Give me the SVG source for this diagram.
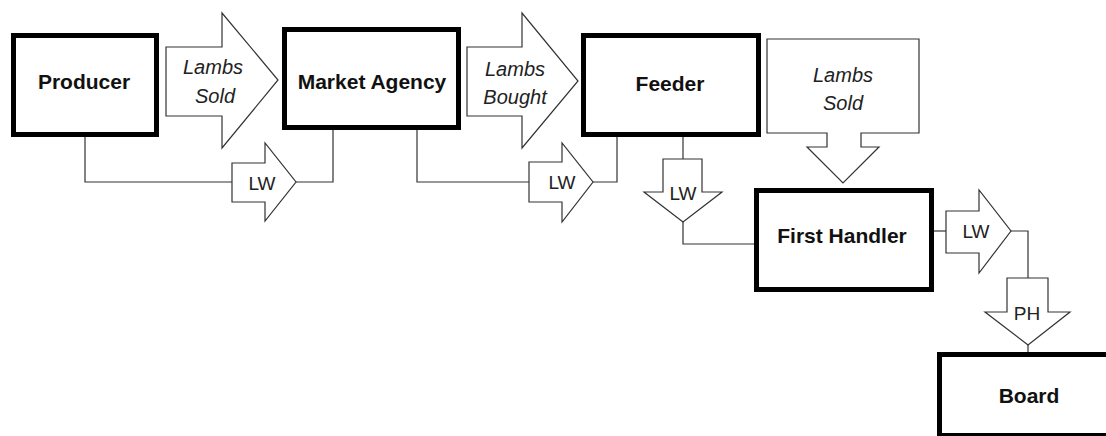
<svg xmlns="http://www.w3.org/2000/svg" width="1106" height="436" viewBox="0 0 1106 436">
<style>
.box{fill:#fff;stroke:#000;stroke-width:5}
.arr{fill:#fff;stroke:#333;stroke-width:1.2;stroke-linejoin:miter}
.ln{fill:none;stroke:#333;stroke-width:1.2}
.bt{font-family:"Liberation Sans",Arial,sans-serif;font-weight:bold;font-size:21px;text-anchor:middle;fill:#111}
.it{font-family:"Liberation Sans",Arial,sans-serif;font-style:italic;font-size:20px;text-anchor:middle;fill:#222}
.lw{font-family:"Liberation Sans",Arial,sans-serif;font-size:19px;text-anchor:middle;fill:#222}
</style>
<rect width="1106" height="436" fill="#fff"/>
<g id="connectors">
<path class="ln" d="M85,137 V182 H232"/>
<path class="ln" d="M296,182 H333 V130"/>
<path class="ln" d="M417,130 V182 H529"/>
<path class="ln" d="M593,182 H617 V137"/>
<path class="ln" d="M683,137 V159"/>
<path class="ln" d="M683,222 V244 H755"/>
<path class="ln" d="M934,231 H946"/>
<path class="ln" d="M1011,231 H1028 V278"/>
<path class="ln" d="M1028,345 V352"/>
</g>
<g id="producer">
<rect class="box" x="13.5" y="35.5" width="143" height="99"/>
<text class="bt" x="84" y="89">Producer</text>
</g>
<g id="market-agency">
<rect class="box" x="284.5" y="29.5" width="174" height="98"/>
<text class="bt" x="372" y="89">Market Agency</text>
</g>
<g id="feeder">
<rect class="box" x="583.5" y="35.5" width="175" height="99"/>
<text class="bt" x="670" y="91">Feeder</text>
</g>
<g id="first-handler">
<rect class="box" x="756.5" y="190.5" width="175" height="99"/>
<text class="bt" x="842" y="243">First Handler</text>
</g>
<g id="board">
<rect class="box" x="939.5" y="354.5" width="200" height="81"/>
<text class="bt" x="1029" y="403">Board</text>
</g>
<g id="arrow-lambs-sold-1">
<path class="arr" d="M166,47 H222 V13 L278,80 L222,148 V116 H166 Z"/>
<text class="it" x="213" y="74">Lambs</text>
<text class="it" x="215" y="103">Sold</text>
</g>
<g id="arrow-lambs-bought">
<path class="arr" d="M467,47 H522 V13 L578,81 L522,148 V116 H467 Z"/>
<text class="it" x="515" y="76">Lambs</text>
<text class="it" x="515" y="104">Bought</text>
</g>
<g id="arrow-lambs-sold-2">
<path class="arr" d="M767,39 H919 V133 H861 V147 H879 L843,183 L807,147 H827 V133 H767 Z"/>
<text class="it" x="843" y="82">Lambs</text>
<text class="it" x="843" y="110">Sold</text>
</g>
<g id="arrow-lw-1">
<path class="arr" d="M232,163 H265 V143 L296,182 L265,221 V202 H232 Z"/>
<text class="lw" x="262" y="190">LW</text>
</g>
<g id="arrow-lw-2">
<path class="arr" d="M529,162 H562 V143 L593,182 L562,222 V202 H529 Z"/>
<text class="lw" x="562" y="189">LW</text>
</g>
<g id="arrow-lw-3">
<path class="arr" d="M663,159 H702 V192 H722 L683,222 L644,192 H663 Z"/>
<text class="lw" x="683" y="200">LW</text>
</g>
<g id="arrow-lw-4">
<path class="arr" d="M946,211 H979 V190 L1011,231 L979,273 V253 H946 Z"/>
<text class="lw" x="976" y="238">LW</text>
</g>
<g id="arrow-ph">
<path class="arr" d="M1007,278 H1048 V312 H1070 L1028,345 L985,312 H1007 Z"/>
<text class="lw" x="1027" y="320">PH</text>
</g>
</svg>
